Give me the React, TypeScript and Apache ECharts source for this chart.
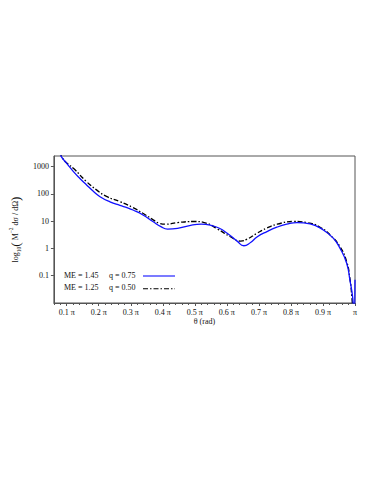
import React, { useEffect, useRef } from "react";
import * as echarts from "echarts";

// theta in units of pi, value as log10 of cross-section
const blueCurve: [number, number][] = [
  [0.075, 3.65], [0.081, 3.42], [0.09, 3.26], [0.1, 3.12], [0.121, 2.82], [0.142, 2.56],
  [0.162, 2.33], [0.183, 2.1], [0.204, 1.9], [0.235, 1.71], [0.266, 1.58], [0.29, 1.49],
  [0.307, 1.41], [0.338, 1.23], [0.369, 0.99], [0.394, 0.8], [0.415, 0.71], [0.446, 0.74],
  [0.487, 0.85], [0.52, 0.89], [0.55, 0.85], [0.575, 0.75], [0.601, 0.56], [0.632, 0.27], [0.653, 0.1],
  [0.674, 0.22], [0.694, 0.42], [0.725, 0.62], [0.756, 0.78], [0.787, 0.89], [0.819, 0.95],
  [0.86, 0.9], [0.901, 0.68], [0.932, 0.38], [0.953, 0.01], [0.974, -0.54], [0.984, -1.15],
  [0.993, -1.82], [0.997, -2.6], [1.0, -1.15],
];
const blackCurve: [number, number][] = [
  [0.078, 3.55], [0.09, 3.26], [0.105, 3.09], [0.121, 2.94], [0.162, 2.45], [0.193, 2.15],
  [0.224, 1.91], [0.266, 1.72], [0.307, 1.5], [0.338, 1.29], [0.369, 1.06], [0.39, 0.92],
  [0.41, 0.89], [0.446, 0.95], [0.498, 0.99], [0.535, 0.93], [0.57, 0.72], [0.611, 0.43],
  [0.643, 0.27], [0.663, 0.34], [0.694, 0.56], [0.725, 0.75], [0.757, 0.89], [0.808, 0.99],
  [0.85, 0.95], [0.891, 0.78], [0.922, 0.5], [0.953, 0.07], [0.974, -0.48], [0.984, -1.09],
  [0.99, -1.76], [0.995, -2.6],
];

const xTicks = [0.1, 0.2, 0.3, 0.4, 0.5, 0.6, 0.7, 0.8, 0.9, 1.0];
const xTickLabels = ["0.1 π", "0.2 π", "0.3 π", "0.4 π", "0.5 π", "0.6 π", "0.7 π", "0.8 π", "0.9 π", "π"];
const xMinorTicks = [0.06, 0.08, 0.12, 0.14, 0.16, 0.18, 0.22, 0.24, 0.26, 0.28, 0.32, 0.34, 0.36, 0.38,
  0.42, 0.44, 0.46, 0.48, 0.52, 0.54, 0.56, 0.58, 0.62, 0.64, 0.66, 0.68, 0.72, 0.74, 0.76, 0.78,
  0.82, 0.84, 0.86, 0.88, 0.92, 0.94, 0.96, 0.98];
const yTicks = [-1, 0, 1, 2, 3];
const yTickLabels = ["0.1", "1", "10", "100", "1000"];

const legendRows = [
  { me: "ME = 1.45", q: "q = 0.75" },
  { me: "ME = 1.25", q: "q = 0.50" },
];

const FONT = "'Liberation Serif', 'DejaVu Serif', serif";
const BLUE = "#1010ff";
const DASHDOT = [5, 2, 1.5, 2];

export default function App() {
  const ref = useRef<HTMLDivElement>(null);
  useEffect(() => {
    if (!ref.current) return;
    const chart = echarts.init(ref.current, undefined, { renderer: "svg" });
    const xLabel = (v: number) => {
      const i = xTicks.findIndex((t) => Math.abs(t - v) < 1e-6);
      return i >= 0 ? xTickLabels[i] : "";
    };
    const yLabel = (v: number) => {
      const i = yTicks.findIndex((t) => Math.abs(t - v) < 1e-6);
      return i >= 0 ? yTickLabels[i] : "";
    };
    const legendY = [276, 288.7];
    chart.setOption({
      animation: false,
      backgroundColor: "#fff",
      grid: {
        left: 52, top: 156, right: 28, bottom: 192,
        show: true, borderColor: "#555", borderWidth: 1,
      },
      xAxis: [
        {
          type: "value", min: 0.06, max: 1.0,
          axisLine: { onZero: false, lineStyle: { color: "#555", width: 1 } },
          axisTick: { show: true, customValues: xTicks, length: 3, lineStyle: { color: "#555" } },
          axisLabel: {
            customValues: xTicks, formatter: xLabel, margin: 5,
            fontFamily: FONT, fontSize: 8, color: "#111",
          },
          splitLine: { show: false },
          name: "θ (rad)", nameLocation: "middle", nameGap: 14,
          nameTextStyle: { fontFamily: FONT, fontSize: 8, color: "#111" },
        },
        {
          type: "value", min: 0.06, max: 1.0, position: "bottom",
          axisLine: { show: false, onZero: false },
          axisTick: { show: true, customValues: xMinorTicks, length: 2, lineStyle: { color: "#555" } },
          axisLabel: { show: false },
          splitLine: { show: false },
        },
      ],
      yAxis: {
        type: "value", min: -2, max: 3.392,
        axisLine: { show: true, onZero: false, lineStyle: { color: "#555", width: 1 } },
        axisTick: { show: true, customValues: yTicks, length: 3, lineStyle: { color: "#555" } },
        axisLabel: {
          customValues: yTicks, formatter: yLabel, margin: 5,
          fontFamily: FONT, fontSize: 8, color: "#111",
        },
        splitLine: { show: false },
        name: "{n|log}{sub|10}{p|(}{n| M}{sup|−2}{n| dσ / dΩ}{p|)}",
        nameLocation: "middle", nameGap: 23, nameRotate: 90,
        nameTextStyle: {
          fontFamily: FONT, color: "#111", fontSize: 8,
          rich: {
            n: { fontFamily: FONT, fontSize: 8, color: "#111", verticalAlign: "middle", lineHeight: 14 },
            sub: { fontFamily: FONT, fontSize: 5.5, color: "#111", verticalAlign: "bottom", lineHeight: 14 },
            sup: { fontFamily: FONT, fontSize: 5.5, color: "#111", verticalAlign: "top", lineHeight: 14 },
            p: { fontFamily: FONT, fontSize: 13, color: "#111", verticalAlign: "middle", lineHeight: 14 },
          },
        },
      },
      series: [
        {
          type: "line", name: "ME = 1.25, q = 0.50", data: blackCurve, xAxisIndex: 0,
          showSymbol: false, smooth: 0.5, clip: true,
          lineStyle: { color: "#000", width: 1.3, type: DASHDOT },
        },
        {
          type: "line", name: "ME = 1.45, q = 0.75", data: blueCurve, xAxisIndex: 0,
          showSymbol: false, smooth: 0.5, clip: true,
          lineStyle: { color: BLUE, width: 1.3 },
        },
      ],
      graphic: legendRows.flatMap((r, i) => [
        {
          type: "text", left: 64, top: legendY[i] - 5,
          style: { text: r.me, fontFamily: FONT, fontSize: 8, fill: "#111" },
        },
        {
          type: "text", left: 109, top: legendY[i] - 5,
          style: { text: r.q, fontFamily: FONT, fontSize: 8, fill: "#111" },
        },
        {
          type: "line",
          shape: { x1: 143, y1: legendY[i], x2: 175, y2: legendY[i] },
          style: i === 0
            ? { stroke: BLUE, lineWidth: 1.1 }
            : { stroke: "#000", lineWidth: 1.1, lineDash: DASHDOT },
        },
      ]),
    });
    return () => chart.dispose();
  }, []);
  return (
    <div
      ref={ref}
      style={{ position: "absolute", left: 0, top: 0, width: 383, height: 495 }}
    />
  );
}
